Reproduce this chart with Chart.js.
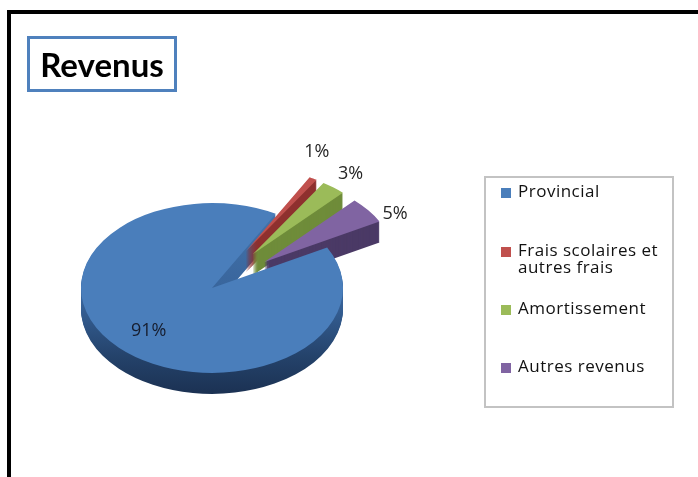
<!DOCTYPE html>
<html>
<head>
<meta charset="utf-8">
<script src="https://cdn.jsdelivr.net/npm/chart.js@4.4.1/dist/chart.umd.min.js"></script>
<style>
  html, body { margin:0; padding:0; background:#fff; width:698px; height:477px; overflow:hidden; }
  #frame { position:absolute; left:7px; top:10px; width:720px; height:463px;
           border-left:4px solid #000; border-top:4px solid #000; border-bottom:2px solid #a6a6a6; }
  #title { position:absolute; left:27px; top:36px; width:144px; height:50px;
           border:3px solid #4f81bd; display:flex; align-items:center; justify-content:center;
           font:bold 33px Lato, "Open Sans", sans-serif; color:#000; }
  #legend { position:absolute; left:484px; top:176px; width:186px; height:228px;
            border:2px solid #c3c3c3; }
  .item { position:absolute; left:15px; width:170px; font:17px "Open Sans", sans-serif;
          letter-spacing:0.5px; line-height:17.6px; color:#111; }
  .item .sq { position:absolute; left:0; top:6px; width:10px; height:10px; }
  .item .tx { margin-left:17px; width:152px; }
  #c { position:absolute; left:0; top:0; }
</style>
</head>
<body>
<div id="frame"></div>
<canvas id="c" width="698" height="477"></canvas>
<div id="title">Revenus</div>
<div id="legend"></div>
<script>
// ---- data ----
const categories = ["Provincial", "Frais scolaires et autres frais", "Amortissement", "Autres revenus"];
const values = [91, 1, 3, 5];
const topColors = ["#4a7ebb", "#c0504d", "#9bbb59", "#8064a2"];
const sideColors = [null, "#8e302e", "#6f8c3a", "#4b3a66"];

// ---- view settings ----
const ROTATION = 61.5;     // degrees
const RADIUS = 131;        // px
const TILT = 0.648;        // vertical squash of the 3D pie
const DEPTH = 21;          // px thickness
const EXPLODE_PX = [0, 66, 66, 66];
const LABEL_SPREAD = 15;   // px tangential spacing between outside labels

// legend (HTML, generated from the arrays)
const legend = document.getElementById('legend');
categories.forEach((name, i) => {
  const it = document.createElement('div');
  it.className = 'item';
  it.style.top = (4.1 + i * 58.4) + 'px';
  const sq = document.createElement('span');
  sq.className = 'sq'; sq.style.background = topColors[i];
  const tx = document.createElement('div');
  tx.className = 'tx'; tx.textContent = name;
  it.appendChild(sq); it.appendChild(tx);
  legend.appendChild(it);
});

const total = values.reduce((a, b) => a + b, 0);
const pctLabels = values.map(v => Math.round(v / total * 100) + '%');

const pie3d = {
  id: 'pie3d',
  beforeDatasetsDraw(chart) {
    const ctx = chart.ctx;
    const arcs = chart.getDatasetMeta(0).data;
    const cx = arcs[0].x, cy = arcs[0].y, R = arcs[0].outerRadius;

    function place(arc, i, dz) {
      ctx.translate(0, dz);
      ctx.translate(cx, cy); ctx.scale(1, TILT); ctx.translate(-cx, -cy);
      const m = (arc.startAngle + arc.endAngle) / 2;
      const e = EXPLODE_PX[i];
      ctx.translate(Math.cos(m) * e, Math.sin(m) * e);
    }
    function sideFill(i, dz) {
      if (sideColors[i]) return sideColors[i];
      const ly = (sy) => cy + (sy - dz - cy) / TILT;
      const g = ctx.createLinearGradient(0, ly(205), 0, ly(395));
      g.addColorStop(0, '#4474ac');
      g.addColorStop(0.5, '#37639a');
      g.addColorStop(0.8, '#24426a');
      g.addColorStop(1, '#1b3152');
      return g;
    }
    function drawWith(arc, fill) {
      const saved = arc.options;
      const o = Object.create(saved);
      o.backgroundColor = fill;
      o.borderWidth = 0;
      arc.options = o;
      arc.draw(ctx);
      arc.options = saved;
    }
    // side walls: stacked layers
    for (let z = DEPTH; z >= 1; z--) {
      arcs.forEach((arc, i) => {
        ctx.save(); place(arc, i, z);
        drawWith(arc, sideFill(i, z));
        ctx.restore();
      });
    }
    // top faces
    arcs.forEach((arc, i) => {
      ctx.save(); place(arc, i, 0);
      drawWith(arc, topColors[i]);
      ctx.restore();
    });
    // data labels
    ctx.save();
    ctx.font = '18px "Open Sans", sans-serif';
    ctx.textAlign = 'center';
    ctx.textBaseline = 'middle';
    const outside = arcs.map((a, i) => i).filter(i => EXPLODE_PX[i] > 0);
    arcs.forEach((arc, i) => {
      const m = (arc.startAngle + arc.endAngle) / 2;
      const txt = pctLabels[i];
      const e = EXPLODE_PX[i];
      let x, y;
      if (e === 0) {
        const r = 0.68 * R;
        x = cx + r * Math.cos(m);
        y = cy + r * Math.sin(m) * TILT + 2;
        ctx.fillStyle = '#161d2e';
      } else {
        const ax = cx + (R + e) * Math.cos(m), ay = cy + (R + e) * Math.sin(m) * TILT;
        let ux = Math.cos(m), uy = Math.sin(m) * TILT;
        const n = Math.hypot(ux, uy); ux /= n; uy /= n;
        const hw = ctx.measureText(txt).width / 2, hh = 7;
        const g = 8 + hw * Math.abs(ux) + hh * Math.abs(uy);
        const k = outside.indexOf(i) - (outside.length - 1) / 2;
        const t = k * LABEL_SPREAD;
        x = ax + ux * g - uy * t;
        y = ay + uy * g + ux * t;
        ctx.fillStyle = '#262626';
      }
      ctx.fillText(txt, x, y);
    });
    ctx.restore();
    return false;
  }
};

function make() {
  new Chart(document.getElementById('c'), {
    type: 'pie',
    data: {
      labels: categories,
      datasets: [{ data: values, backgroundColor: topColors, borderWidth: 0 }]
    },
    options: {
      responsive: false,
      animation: false,
      events: [],
      rotation: ROTATION,
      radius: RADIUS,
      layout: { padding: { left: 0, top: 99, right: 274, bottom: 0 } },
      plugins: { legend: { display: false }, tooltip: { enabled: false }, title: { display: false } }
    },
    plugins: [pie3d]
  });
}
if (document.fonts && document.fonts.load) {
  Promise.all([document.fonts.load('18px "Open Sans"'), document.fonts.load('bold 33px Lato')])
    .then(make, make);
} else { make(); }
</script>
</body>
</html>
